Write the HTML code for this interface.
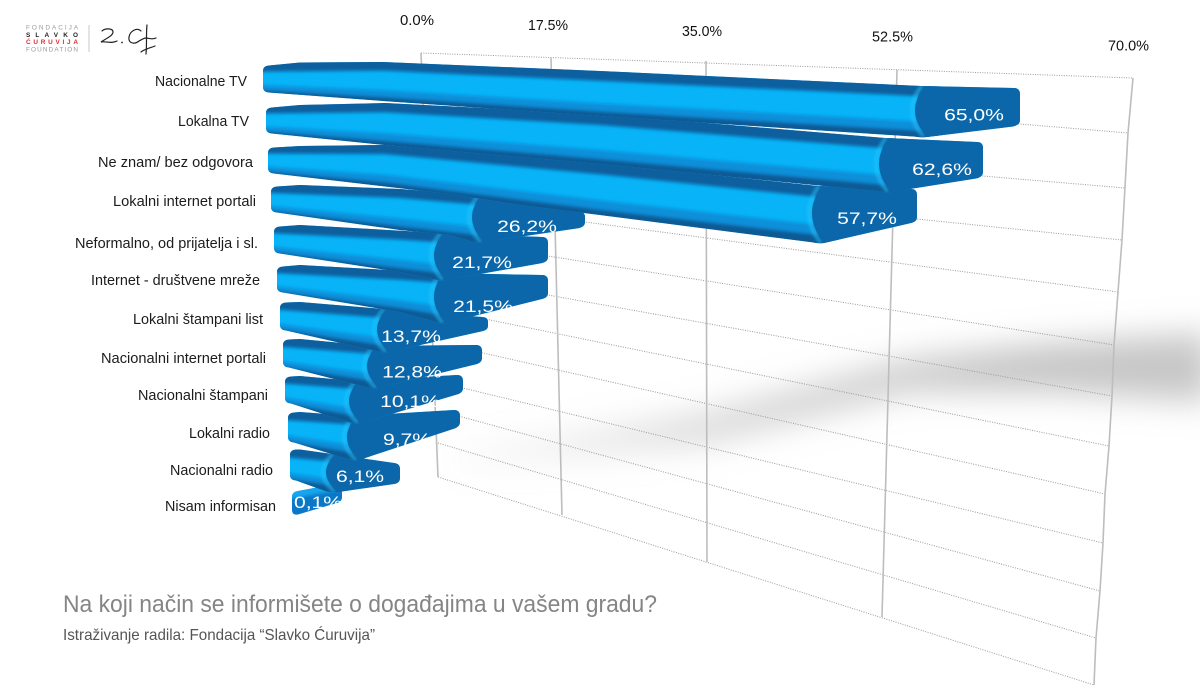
<!DOCTYPE html>
<html><head><meta charset="utf-8"><style>
html,body{margin:0;padding:0;background:#fff;}
svg{display:block;}
.c{font-family:"Liberation Sans",Arial,sans-serif;font-size:14.5px;fill:#1c1c1c;}
.v{font-family:"Liberation Sans",Arial,sans-serif;font-size:16.5px;fill:#fff;text-anchor:middle;}
.d{stroke:#9a9a9a;stroke-width:1;stroke-dasharray:1 1.4;fill:none;}
.g{stroke:#bdbdbd;stroke-width:1.6;fill:none;}
.hl{fill:none;stroke:#27c4fb;stroke-width:3;stroke-opacity:0.7;}
</style></head><body>
<svg width="1200" height="693" viewBox="0 0 1200 693" xmlns="http://www.w3.org/2000/svg">
<defs>
<filter id="bl" filterUnits="userSpaceOnUse" x="0" y="0" width="1200" height="693"><feGaussianBlur stdDeviation="1.6"/></filter>
<filter id="sh" filterUnits="userSpaceOnUse" x="0" y="0" width="1200" height="693"><feGaussianBlur stdDeviation="16"/></filter>
<linearGradient id="shg" gradientUnits="userSpaceOnUse" x1="460" y1="0" x2="1000" y2="0">
<stop offset="0" stop-color="#bdbdbd" stop-opacity="0.12"/><stop offset="0.5" stop-color="#bdbdbd" stop-opacity="0.6"/><stop offset="1" stop-color="#bdbdbd" stop-opacity="0.85"/></linearGradient>
<clipPath id="o0"><path d="M263,71 Q263,66 269,65.5 L300,62.5 L383,62 L600,71 L921,86 L1014,88 Q1020,88 1020,94 L1020,120 Q1020,125 1013,126.5 L927,137 Q921,137.8 915,136.6 L600,116 L383,101 L269,92.5 Q263,92 263,87 Z"/></clipPath>
<clipPath id="o1"><path d="M266,113 Q266,108 272,107.5 L300,105 L385,103 L600,114 L885,138 L977,142 Q983,142 983,148 L983,172 Q983,177 976,178.5 L891,192 Q885,192.8 879,191.4 L600,164 L385,145 L272,133.5 Q266,133 266,128 Z"/></clipPath>
<clipPath id="o2"><path d="M268,153 Q268,148 274,147.5 L300,146 L385,145 L600,163 L818,186 L911,189 Q917,189 917,195 L917,217 Q917,222 910,223.3 L824,243 Q818,243.8 812,242.3 L600,215 L520,205 L450,194 L274,173.5 Q268,173 268,168 Z"/></clipPath>
<clipPath id="o3"><path d="M271,192 Q271,187 277,186.5 L300,185 L400,189 L478,195 L579,211 Q585,212 585,217 L585,222 Q585,227 578,228.3 L484,242 Q478,242.8 472,241.5 L450,235 L400,230 L277,212.5 Q271,212 271,207 Z"/></clipPath>
<clipPath id="o4"><path d="M274,232 Q274,227 280,226.5 L300,225 L440,233 L542,237 Q548,237 548,243 L548,257 Q548,262 541,263.3 L446,280 Q440,280.8 434,279.3 L400,272 L280,253.5 Q274,253 274,248 Z"/></clipPath>
<clipPath id="o5"><path d="M277,272 Q277,267 283,266.5 L300,265 L440,273 L542,275 Q548,275 548,281 L548,293 Q548,298 541,299.3 L446,323 Q440,323.8 434,321.5 L400,312 L283,292.5 Q277,292 277,287 Z"/></clipPath>
<clipPath id="o6"><path d="M280,308 Q280,303 286,302.5 L300,302 L383,309 L482,317 Q488,317 488,322 L488,326 Q488,330 482,331.2 L389,352 Q383,352.8 377,351.2 L286,330.5 Q280,330 280,325 Z"/></clipPath>
<clipPath id="o7"><path d="M283,345 Q283,340 289,339.5 L300,339 L373,346 L476,345 Q482,345 482,351 L482,358 Q482,363 475,364.5 L379,388 Q373,388.8 367,387.3 L289,367.5 Q283,367 283,362 Z"/></clipPath>
<clipPath id="o8"><path d="M285,382 Q285,377 291,376.5 L300,376 L355,381 L457,375 Q463,375 463,381 L463,388 Q463,393 456,394.8 L361,423 Q355,423.8 349,422.2 L291,403.5 Q285,403 285,398 Z"/></clipPath>
<clipPath id="o9"><path d="M288,418 Q288,413 294,412.5 L300,412 L353,416 L454,410 Q460,410 460,416 L460,422 Q460,427 453,429 L359,460 Q353,460.8 347,458.8 L294,442.5 Q288,442 288,437 Z"/></clipPath>
<clipPath id="o10"><path d="M290,455 Q290,450 296,449.5 L300,449.5 L332,454 L394,463 Q400,463.5 400,469 L400,478 Q400,483 394,484 L338,492 Q332,492.8 326,491.2 L296,480.5 Q290,480 290,475 Z"/></clipPath>
<clipPath id="o11"><path d="M292,497 Q292,492 298,491 L336,484 Q342,483 342,489 L342,497 Q342,502 336,503.2 L298,514.5 Q292,515.5 292,510 Z"/></clipPath>
</defs>

<rect width="1200" height="693" fill="#fff"/>

<!-- logo -->
<text x="26" y="29.5" font-family="Liberation Sans, Arial, sans-serif" font-size="6.4" fill="#9a9a9a" textLength="52" lengthAdjust="spacing">FONDACIJA</text>
<text x="26" y="36.8" font-family="Liberation Sans, Arial, sans-serif" font-size="6.4" font-weight="bold" fill="#222" textLength="52" lengthAdjust="spacing">SLAVKO</text>
<text x="26" y="44" font-family="Liberation Sans, Arial, sans-serif" font-size="6.4" font-weight="bold" fill="#e0282e" textLength="52" lengthAdjust="spacing">ĆURUVIJA</text>
<text x="26" y="51.5" font-family="Liberation Sans, Arial, sans-serif" font-size="6.4" fill="#9a9a9a" textLength="52" lengthAdjust="spacing">FOUNDATION</text>
<line x1="89" y1="25" x2="89" y2="52" stroke="#c8c8c8" stroke-width="1"/>
<g fill="none" stroke="#222" stroke-width="1.2" stroke-linecap="round">
<path d="M102,31 C105,28 113,28 113,32 C113,36 105,39 101,42 C106,41 111,44 117,41"/>
<path d="M141,31 C137,27 130,31 129,37 C128,43 134,45 139,41 C141,40 144,38 146,38 C149,38 152,40 156,38"/>
<path d="M147,25 C146,33 147,44 146,54"/>
<path d="M141,52 C145,49 150,48 155,46"/>
</g>
<circle cx="122" cy="42.5" r="0.9" fill="#222"/>

<!-- axis labels -->
<g font-family="Liberation Sans, Arial, sans-serif" font-size="14.5" fill="#111">
<text x="400" y="25" textLength="34" lengthAdjust="spacingAndGlyphs">0.0%</text>
<text x="528" y="30" textLength="40" lengthAdjust="spacingAndGlyphs">17.5%</text>
<text x="682" y="36" textLength="40" lengthAdjust="spacingAndGlyphs">35.0%</text>
<text x="872" y="41.5" textLength="41" lengthAdjust="spacingAndGlyphs">52.5%</text>
<text x="1108" y="50.5" textLength="41" lengthAdjust="spacingAndGlyphs">70.0%</text>
</g>

<!-- shadow -->
<path d="M460,452 L706,412 L910,358 L1050,343 L1210,333 L1210,402 L1050,392 L910,392 L706,444 L460,466 Z" fill="url(#shg)" filter="url(#sh)"/>

<!-- grid -->
<line class="d" x1="421" y1="53" x2="1133" y2="78"/>
<line class="d" x1="700" y1="97.3" x2="1128" y2="133"/>
<line class="d" x1="700" y1="152.1" x2="1125" y2="188"/>
<line class="d" x1="700" y1="196.8" x2="1122" y2="240"/>
<line class="d" x1="560" y1="218.7" x2="1118" y2="292"/>
<line class="d" x1="530" y1="253.2" x2="1114" y2="345"/>
<line class="d" x1="530" y1="291.8" x2="1112" y2="396"/>
<line class="d" x1="470" y1="315.9" x2="1109" y2="446"/>
<line class="d" x1="470" y1="350" x2="1105" y2="494"/>
<line class="d" x1="450" y1="384.9" x2="1103" y2="543"/>
<line class="d" x1="450" y1="413.7" x2="1100" y2="591"/>
<line class="d" x1="438" y1="443" x2="1096" y2="638"/>
<line class="d" x1="438" y1="477" x2="1094" y2="685"/>
<line class="g" x1="421" y1="53" x2="438" y2="477"/>
<line class="g" x1="551" y1="58" x2="562" y2="515"/>
<line class="g" x1="706" y1="61" x2="707" y2="562"/>
<line class="g" x1="897" y1="70" x2="882" y2="617"/>
<polyline class="g" points="1133,78 1128,133 1125,187 1122,240 1118,292 1114,345 1112,396 1109,446 1105,494 1103,543 1100,591 1096,638 1094,685"/>

<!-- category labels -->
<text class="c" x="155" y="86" textLength="92" lengthAdjust="spacingAndGlyphs">Nacionalne TV</text>
<text class="c" x="178" y="126" textLength="71" lengthAdjust="spacingAndGlyphs">Lokalna TV</text>
<text class="c" x="98" y="167" textLength="155" lengthAdjust="spacingAndGlyphs">Ne znam/ bez odgovora</text>
<text class="c" x="113" y="206" textLength="143" lengthAdjust="spacingAndGlyphs">Lokalni internet portali</text>
<text class="c" x="75" y="248" textLength="183" lengthAdjust="spacingAndGlyphs">Neformalno, od prijatelja i sl.</text>
<text class="c" x="91" y="285" textLength="169" lengthAdjust="spacingAndGlyphs">Internet - društvene mreže</text>
<text class="c" x="133" y="324" textLength="130" lengthAdjust="spacingAndGlyphs">Lokalni štampani list</text>
<text class="c" x="101" y="363" textLength="165" lengthAdjust="spacingAndGlyphs">Nacionalni internet portali</text>
<text class="c" x="138" y="400" textLength="130" lengthAdjust="spacingAndGlyphs">Nacionalni štampani</text>
<text class="c" x="189" y="438" textLength="81" lengthAdjust="spacingAndGlyphs">Lokalni radio</text>
<text class="c" x="170" y="475" textLength="103" lengthAdjust="spacingAndGlyphs">Nacionalni radio</text>
<text class="c" x="165" y="511" textLength="111" lengthAdjust="spacingAndGlyphs">Nisam informisan</text>

<!-- bar 11 -->
<g clip-path="url(#o11)">
<rect width="1200" height="693" fill="#0a78c6"/>
<path d="M285,482 L345,472 L345,489 L285,500 Z" fill="#14a6ee" filter="url(#bl)"/>
<text class="v" transform="translate(318,508) scale(1.28,1)">0,1%</text>
</g>

<!-- bar 10 -->
<g clip-path="url(#o10)">
<rect width="1200" height="693" fill="#08b3f7"/>
<g filter="url(#bl)">
<path d="M278,430 L350,430 L350,463.1 L278,456.6 Z" fill="#0b5f9e"/>
<path d="M278,471.6 L350,481.6 L350,510 L278,510 Z" fill="#0a8fd9"/>
<path d="M278,477 L350,488.3 L350,510 L278,510 Z" fill="#0a5a95"/>
</g>
<path class="hl" d="M335,492 Q312,473 333,454" filter="url(#bl)"/>
<path d="M336,454 L336,424 L420,433 L420,513 L338,522 L338,492 Q315,473 336,454 Z" fill="#0b67a9"/>
</g>
<text class="v" transform="translate(360,482) scale(1.28,1)">6,1%</text>

<!-- bar 9 -->
<g clip-path="url(#o9)">
<rect width="1200" height="693" fill="#08b3f7"/>
<g filter="url(#bl)">
<path d="M276,390 L370,390 L370,425.7 L276,419.4 Z" fill="#0b5f9e"/>
<path d="M276,433.9 L370,447.7 L370,480 L276,480 Z" fill="#0a8fd9"/>
<path d="M276,439.1 L370,455.6 L370,480 L276,480 Z" fill="#0a5a95"/>
</g>
<path class="hl" d="M356,460 Q333,438 354,416" filter="url(#bl)"/>
<path d="M357,416 L357,386 L480,380 L480,457 L359,490 L359,460 Q336,438 357,416 Z" fill="#0b67a9"/>
</g>
<text class="v" transform="translate(407,445) scale(1.28,1)">9,7%</text>

<!-- bar 8 -->
<g clip-path="url(#o8)">
<rect width="1200" height="693" fill="#08b3f7"/>
<g filter="url(#bl)">
<path d="M273,355 L372,355 L372,390.2 L273,382.7 Z" fill="#0b5f9e"/>
<path d="M273,395.7 L372,411.2 L372,440 L273,440 Z" fill="#0a8fd9"/>
<path d="M273,400.4 L372,418.8 L372,440 L273,440 Z" fill="#0a5a95"/>
</g>
<path class="hl" d="M358,423 Q335,402 356,381" filter="url(#bl)"/>
<path d="M359,381 L359,351 L483,345 L483,423 L361,453 L361,423 Q338,402 359,381 Z" fill="#0b67a9"/>
</g>
<text class="v" transform="translate(410,407) scale(1.28,1)">10,1%</text>

<!-- bar 7 -->
<g clip-path="url(#o7)">
<rect width="1200" height="693" fill="#08b3f7"/>
<g filter="url(#bl)">
<path d="M270,320 L390,320 L390,355.2 L270,345.9 Z" fill="#0b5f9e"/>
<path d="M270,359.4 L390,376.2 L390,410 L270,410 Z" fill="#0a8fd9"/>
<path d="M270,364.3 L390,383.8 L390,410 L270,410 Z" fill="#0a5a95"/>
</g>
<path class="hl" d="M376,388 Q353,367 374,346" filter="url(#bl)"/>
<path d="M377,346 L377,316 L502,315 L502,393 L379,418 L379,388 Q356,367 377,346 Z" fill="#0b67a9"/>
</g>
<text class="v" transform="translate(412,377.5) scale(1.28,1)">12,8%</text>

<!-- bar 6 -->
<g clip-path="url(#o6)">
<rect width="1200" height="693" fill="#08b3f7"/>
<g filter="url(#bl)">
<path d="M268,285 L400,285 L400,319.1 L268,308.9 Z" fill="#0b5f9e"/>
<path d="M268,322.4 L400,340.2 L400,370 L268,370 Z" fill="#0a8fd9"/>
<path d="M268,327.3 L400,347.8 L400,370 L268,370 Z" fill="#0a5a95"/>
</g>
<path class="hl" d="M386,352 Q363,330.5 384,309" filter="url(#bl)"/>
<path d="M387,309 L387,279 L508,287 L508,360 L389,382 L389,352 Q366,330.5 387,309 Z" fill="#0b67a9"/>
</g>
<text class="v" transform="translate(411,342) scale(1.28,1)">13,7%</text>

<!-- bar 5 -->
<g clip-path="url(#o5)">
<rect width="1200" height="693" fill="#08b3f7"/>
<g filter="url(#bl)">
<path d="M265,245 L460,245 L460,284.2 L400,279.8 L265,272.5 Z" fill="#0b5f9e"/>
<path d="M265,285 L400,300.4 L460,309.1 L460,340 L265,340 Z" fill="#0a8fd9"/>
<path d="M265,289.5 L400,307.9 L460,318 L460,340 L265,340 Z" fill="#0a5a95"/>
</g>
<path class="hl" d="M443,323 Q420,298 441,273" filter="url(#bl)"/>
<path d="M444,273 L444,243 L568,245 L568,328 L446,353 L446,323 Q423,298 444,273 Z" fill="#0b67a9"/>
</g>
<text class="v" transform="translate(483,312) scale(1.28,1)">21,5%</text>

<!-- bar 4 -->
<g clip-path="url(#o4)">
<rect width="1200" height="693" fill="#08b3f7"/>
<g filter="url(#bl)">
<path d="M262,205 L460,205 L460,243.7 L400,239.6 L262,232.7 Z" fill="#0b5f9e"/>
<path d="M262,245.7 L400,259.9 L460,267 L460,300 L262,300 Z" fill="#0a8fd9"/>
<path d="M262,250.4 L400,268 L460,275.3 L460,300 L262,300 Z" fill="#0a5a95"/>
</g>
<path class="hl" d="M443,280 Q420,256.5 441,233" filter="url(#bl)"/>
<path d="M444,233 L444,203 L568,207 L568,292 L446,310 L446,280 Q423,256.5 444,233 Z" fill="#0b67a9"/>
</g>
<text class="v" transform="translate(482,268) scale(1.28,1)">21,7%</text>

<!-- bar 3 -->
<g clip-path="url(#o3)">
<rect width="1200" height="693" fill="#08b3f7"/>
<g filter="url(#bl)">
<path d="M260,165 L500,165 L500,206.6 L400,198 L260,192.5 Z" fill="#0b5f9e"/>
<path d="M260,205 L400,218.5 L500,229.4 L500,270 L260,270 Z" fill="#0a8fd9"/>
<path d="M260,209.5 L400,226 L500,237.5 L500,270 L260,270 Z" fill="#0a5a95"/>
</g>
<path class="hl" d="M481,242 Q458,218.5 479,195" filter="url(#bl)"/>
<path d="M482,195 L482,165 L605,181 L605,257 L484,272 L484,242 Q461,218.5 482,195 Z" fill="#0b67a9"/>
</g>
<text class="v" transform="translate(527,232) scale(1.28,1)">26,2%</text>

<!-- bar 2 -->
<g clip-path="url(#o2)">
<rect width="1200" height="693" fill="#08b3f7"/>
<g filter="url(#bl)">
<path d="M258,125 L840,125 L840,199.3 L600,174.4 L385,154.1 L258,153.5 Z" fill="#0b5f9e"/>
<path d="M258,166 L385,174.8 L600,200.4 L840,227.3 L840,270 L258,270 Z" fill="#0a8fd9"/>
<path d="M258,170.5 L385,182.3 L600,209.8 L840,237.4 L840,270 L258,270 Z" fill="#0a5a95"/>
</g>
<path class="hl" d="M821,243 Q798,214.5 819,186" filter="url(#bl)"/>
<path d="M822,186 L822,156 L937,161 L937,252 L824,273 L824,243 Q801,214.5 822,186 Z" fill="#0b67a9"/>
</g>
<text class="v" transform="translate(867,224) scale(1.28,1)">57,7%</text>

<!-- bar 1 -->
<g clip-path="url(#o1)">
<rect width="1200" height="693" fill="#08b3f7"/>
<g filter="url(#bl)">
<path d="M255,85 L905,85 L905,149.9 L600,125 L385,112.2 L255,113.5 Z" fill="#0b5f9e"/>
<path d="M255,126 L385,133.2 L600,150 L905,176.9 L905,220 L255,220 Z" fill="#0a8fd9"/>
<path d="M255,130.5 L385,140.8 L600,159 L905,186.6 L905,220 L255,220 Z" fill="#0a5a95"/>
</g>
<path class="hl" d="M888,192 Q865,165 886,138" filter="url(#bl)"/>
<path d="M889,138 L889,108 L1003,112 L1003,207 L891,222 L891,192 Q868,165 889,138 Z" fill="#0b67a9"/>
</g>
<text class="v" transform="translate(942,175) scale(1.28,1)">62,6%</text>

<!-- bar 0 -->
<g clip-path="url(#o0)">
<rect width="1200" height="693" fill="#08b3f7"/>
<g filter="url(#bl)">
<path d="M250,40 L940,40 L940,97.2 L600,80.9 L383,70.6 L250,71.7 Z" fill="#0b5f9e"/>
<path d="M250,84.7 L383,90.1 L600,103.4 L940,122.7 L940,170 L250,170 Z" fill="#0a8fd9"/>
<path d="M250,89.4 L383,97.1 L600,111.5 L940,131.9 L940,170 L250,170 Z" fill="#0a5a95"/>
</g>
<path class="hl" d="M924,137 Q901,111.5 922,86" filter="url(#bl)"/>
<path d="M925,86 L925,56 L1040,58 L1040,155 L927,167 L927,137 Q904,111.5 925,86 Z" fill="#0b67a9"/>
</g>
<text class="v" transform="translate(974,120.5) scale(1.28,1)">65,0%</text>

<!-- title -->
<text x="63" y="612" font-family="Liberation Sans, Arial, sans-serif" font-size="24" fill="#858585" textLength="594" lengthAdjust="spacingAndGlyphs">Na koji način se informišete o događajima u vašem gradu?</text>
<text x="63" y="640" font-family="Liberation Sans, Arial, sans-serif" font-size="16" fill="#555" textLength="312" lengthAdjust="spacingAndGlyphs">Istraživanje radila: Fondacija “Slavko Ćuruvija”</text>
</svg>
</body></html>
